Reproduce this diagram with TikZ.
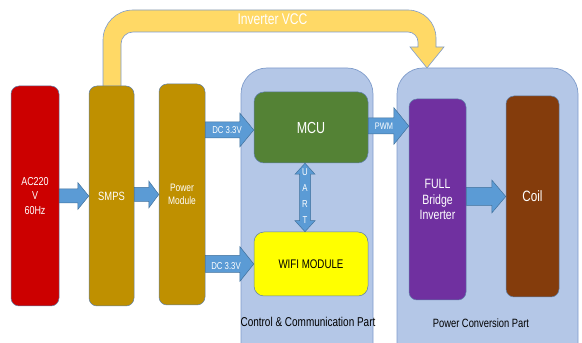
\documentclass[tikz,border=0pt]{standalone}
\usepackage{fontspec}
\setmainfont{Liberation Sans}[FakeStretch=0.78]
\usetikzlibrary{calc}

\definecolor{acred}{HTML}{CC0000}
\definecolor{gold}{HTML}{BF9000}
\definecolor{panelfill}{HTML}{B4C7E7}
\definecolor{paneledge}{HTML}{7F9CCB}
\definecolor{mcugreen}{HTML}{548235}
\definecolor{wifiyellow}{HTML}{FFFF00}
\definecolor{bridgepurple}{HTML}{7030A0}
\definecolor{coilbrown}{HTML}{843C0C}
\definecolor{vccyellow}{HTML}{FFD966}
\definecolor{arrowblue}{HTML}{5B9BD5}
\definecolor{arrowedge}{HTML}{41719C}
\definecolor{boxedge}{HTML}{5E7FA8}

% horizontal block arrow: start, tip, half shaft, half head, head length
\newcommand\harrow[5]{%
  \path[blockarrow] let \p1=#1, \p2=#2 in
    (\x1,\y2+#3pt) -- (\x2-#5pt,\y2+#3pt) -- (\x2-#5pt,\y2+#4pt) -- (\x2,\y2)
    -- (\x2-#5pt,\y2-#4pt) -- (\x2-#5pt,\y2-#3pt) -- (\x1,\y2-#3pt) -- cycle;}

\newcommand\fs[2]{\fontsize{#1}{#2}\selectfont}

\begin{document}
\begin{tikzpicture}[x=1pt,y=1pt,
  panel/.style={draw=paneledge, fill=panelfill, line width=0.7pt, rounded corners=26pt, inner sep=0pt},
  block/.style={draw=boxedge, line width=0.5pt, rounded corners=8pt, inner sep=0pt, align=center, text=white},
  blockarrow/.style={fill=arrowblue, draw=arrowedge, line width=0.5pt},
  lbl/.style={inner sep=0pt, align=center}]

\useasboundingbox (0,0) rectangle (582,343);
\clip (0,0) rectangle (582,343);

% supply feed from the SMPS to the inverter stage
\path[fill=vccyellow, draw=paneledge, line width=0.6pt]
  (103,250) -- (103,303) arc[start angle=180, end angle=90, radius=30]
  -- (408,333) arc[start angle=90, end angle=0, radius=28]
  -- (436,296) -- (444,296) -- (427,275) -- (410,296) -- (418,296)
  -- (418,301) arc[start angle=0, end angle=90, radius=10]
  -- (133,311) arc[start angle=90, end angle=180, radius=12]
  -- (121,250) -- cycle;
\node[lbl, text=white, font=\fs{15.5}{17}] (vcc) at (272.5,324) {Inverter VCC};

% group panels
\node[panel, minimum width=132pt, minimum height=302pt] (ctrl) at (307,124) {};
\node[panel, minimum width=181pt, minimum height=302pt] (pwr) at (487.5,124) {};
\node[lbl, font=\fs{12.8}{14}] (ctrllbl) at (308,21) {Control \& Communication Part};
\node[lbl, font=\fs{12}{14}] (pwrlbl) at (481,20) {Power Conversion Part};

% blocks
\node[block, fill=acred, minimum width=48pt, minimum height=220pt, font=\fs{11.5}{14.5}] (ac) at (35,147)
  {AC220\\V\\60Hz};
\node[block, fill=gold, minimum width=45pt, minimum height=220pt, font=\fs{12}{14}] (smps) at (111.5,147)
  {SMPS};
\node[block, fill=gold, minimum width=46pt, minimum height=221pt, font=\fs{10.8}{13}] (pm) at (182,148.5)
  {Power\\Module};
\node[block, fill=mcugreen, rounded corners=10pt, minimum width=114pt, minimum height=71pt, font=\fs{16}{18}] (mcu) at (311,215.5)
  {MCU};
\node[block, fill=wifiyellow, text=black, rounded corners=10pt, minimum width=114pt, minimum height=64pt, font=\fs{12.5}{14}] (wifi) at (311,79)
  {WIFI MODULE};
\node[block, fill=bridgepurple, minimum width=57pt, minimum height=201pt, font=\fs{13.5}{15.5}] (fb) at (437.5,143.5)
  {FULL\\Bridge\\Inverter};
\node[block, fill=coilbrown, minimum width=53pt, minimum height=201pt, font=\fs{15}{17}] (coil) at (532.5,146.5)
  {Coil};

% signal and power flow
\harrow{(ac.east)}{(smps.west |- ac.east)}{7}{13.5}{11}
\harrow{(smps.east |- pm.center)}{(pm.west |- pm.center)}{7}{13.5}{10}
\harrow{(pm.east |- 0,213)}{(mcu.west |- 0,213)}{8}{17}{14}
\harrow{(pm.east |- wifi.west)}{(wifi.west)}{8.5}{17.5}{14}
\harrow{(mcu.east |- 0,217)}{(fb.west |- 0,217)}{8}{18.5}{15}
\harrow{(fb.east |- coil.west)}{(coil.west)}{9}{16.5}{14}

\node[lbl, text=white, font=\fs{10}{12}] (dctop) at (227,213) {DC 3.3V};
\node[lbl, text=white, font=\fs{10}{12}] (dcbot) at (226,77) {DC 3.3V};
\node[lbl, text=white, font=\fs{9.5}{11}] (pwm) at (384,217) {PWM};

% UART link between MCU and WIFI module
\path[blockarrow] let \p1=($(mcu.south)+(-6,0)$), \p2=($(wifi.north)+(-6,0)$) in
  (\x1,\y1) -- (\x1+10pt,\y1-11pt) -- (\x1+5.5pt,\y1-11pt) -- (\x2+5.5pt,\y2+11pt)
  -- (\x2+10pt,\y2+11pt) -- (\x2,\y2) -- (\x2-10pt,\y2+11pt) -- (\x2-5.5pt,\y2+11pt)
  -- (\x1-5.5pt,\y1-11pt) -- (\x1-10pt,\y1-11pt) -- cycle;
\node[lbl, text=white, font=\fs{10}{16}] (uart) at ($(mcu.south)!0.5!(wifi.north)+(-6,1)$)
  {U\\A\\R\\T};

\end{tikzpicture}
\end{document}
